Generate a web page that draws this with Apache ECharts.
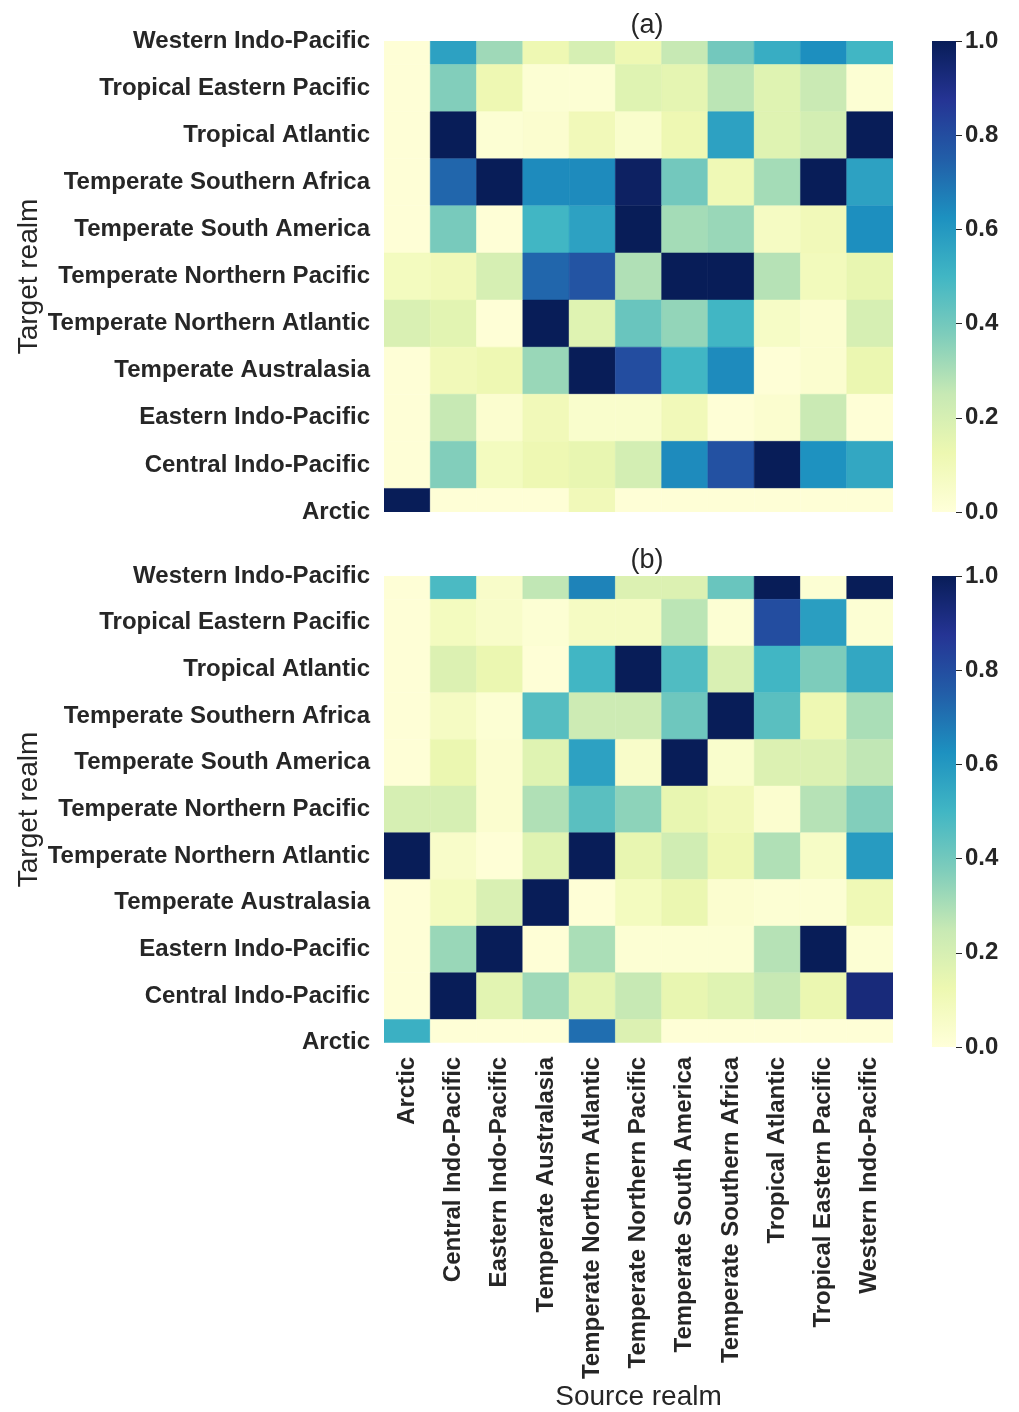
<!DOCTYPE html>
<html>
<head>
<meta charset="utf-8">
<script src="https://cdn.jsdelivr.net/npm/echarts@6/dist/echarts.min.js"></script>
<style>
  html, body { margin: 0; padding: 0; background: #ffffff; }
  #chart { width: 1019px; height: 1412px; }
</style>
</head>
<body>
<div id="chart"></div>
<script>
// Realms (source on x, target on y; y listed bottom -> top)
const realms = [
  'Arctic', 'Central Indo-Pacific', 'Eastern Indo-Pacific', 'Temperate Australasia',
  'Temperate Northern Atlantic', 'Temperate Northern Pacific', 'Temperate South America',
  'Temperate Southern Africa', 'Tropical Atlantic', 'Tropical Eastern Pacific', 'Western Indo-Pacific'
];

// Panel (a): rows are target realms from top (Western Indo-Pacific) to bottom (Arctic),
// columns are source realms in the order of `realms`.
const panelA = [
  [0.01, 0.57, 0.32, 0.12, 0.20, 0.12, 0.25, 0.40, 0.53, 0.63, 0.50], // Western Indo-Pacific
  [0.01, 0.37, 0.12, 0.02, 0.02, 0.17, 0.15, 0.27, 0.17, 0.24, 0.02], // Tropical Eastern Pacific
  [0.01, 1.00, 0.02, 0.03, 0.10, 0.04, 0.12, 0.57, 0.17, 0.21, 1.00], // Tropical Atlantic
  [0.01, 0.73, 1.00, 0.64, 0.64, 0.98, 0.40, 0.11, 0.31, 1.00, 0.57], // Temperate Southern Africa
  [0.01, 0.39, 0.01, 0.50, 0.57, 1.00, 0.31, 0.33, 0.07, 0.10, 0.63], // Temperate South America
  [0.08, 0.10, 0.20, 0.73, 0.78, 0.29, 1.00, 1.00, 0.28, 0.09, 0.14], // Temperate Northern Pacific
  [0.19, 0.16, 0.01, 1.00, 0.17, 0.42, 0.34, 0.50, 0.06, 0.03, 0.20], // Temperate Northern Atlantic
  [0.01, 0.10, 0.12, 0.33, 1.00, 0.80, 0.50, 0.64, 0.01, 0.03, 0.13], // Temperate Australasia
  [0.01, 0.25, 0.03, 0.10, 0.04, 0.04, 0.10, 0.01, 0.03, 0.24, 0.01], // Eastern Indo-Pacific
  [0.01, 0.37, 0.08, 0.12, 0.14, 0.21, 0.64, 0.79, 1.00, 0.62, 0.55], // Central Indo-Pacific
  [1.00, 0.01, 0.01, 0.01, 0.10, 0.01, 0.01, 0.01, 0.01, 0.01, 0.01]  // Arctic
];

// Panel (b)
const panelB = [
  [0.01, 0.48, 0.05, 0.26, 0.66, 0.18, 0.18, 0.42, 1.00, 0.02, 1.00], // Western Indo-Pacific
  [0.01, 0.08, 0.05, 0.02, 0.07, 0.07, 0.27, 0.02, 0.80, 0.58, 0.02], // Tropical Eastern Pacific
  [0.01, 0.18, 0.13, 0.01, 0.50, 1.00, 0.47, 0.19, 0.50, 0.38, 0.55], // Tropical Atlantic
  [0.01, 0.07, 0.02, 0.46, 0.23, 0.23, 0.41, 1.00, 0.45, 0.12, 0.30], // Temperate Southern Africa
  [0.01, 0.13, 0.03, 0.17, 0.57, 0.05, 1.00, 0.04, 0.18, 0.18, 0.26], // Temperate South America
  [0.20, 0.20, 0.03, 0.29, 0.45, 0.35, 0.14, 0.10, 0.03, 0.28, 0.37], // Temperate Northern Pacific
  [1.00, 0.05, 0.01, 0.17, 1.00, 0.14, 0.22, 0.12, 0.29, 0.06, 0.59], // Temperate Northern Atlantic
  [0.01, 0.08, 0.19, 1.00, 0.01, 0.08, 0.13, 0.03, 0.02, 0.02, 0.11], // Temperate Australasia
  [0.01, 0.33, 1.00, 0.01, 0.30, 0.02, 0.02, 0.02, 0.28, 1.00, 0.02], // Eastern Indo-Pacific
  [0.01, 1.00, 0.16, 0.32, 0.15, 0.25, 0.14, 0.17, 0.25, 0.13, 0.93], // Central Indo-Pacific
  [0.52, 0.01, 0.01, 0.01, 0.71, 0.18, 0.01, 0.01, 0.01, 0.01, 0.01]  // Arctic
];

const colorTicks = [0, 0.2, 0.4, 0.6, 0.8, 1.0];

// YlGnBu colormap
const ylgnbu = ['#ffffd9', '#edf8b1', '#c7e9b4', '#7fcdbb', '#41b6c4', '#1d91c0', '#225ea8', '#253494', '#081d58'];

function toTriples(matrix) {
  const out = [];
  const n = matrix.length;
  matrix.forEach(function (row, r) {
    row.forEach(function (v, c) {
      out.push([c, n - 1 - r, v]);
    });
  });
  return out;
}

const FONT = 'Liberation Sans, Arial, Helvetica, sans-serif';
const TXT = '#262626';

function renderCell(params, api) {
  const p = api.coord([api.value(0), api.value(1)]);
  const s = api.size([1, 1]);
  const col = api.visual('color');
  return {
    type: 'rect',
    shape: { x: p[0] - s[0] / 2, y: p[1] - s[1] / 2, width: s[0], height: s[1] },
    style: { fill: col, stroke: col, lineWidth: 0.5 }
  };
}

const grids = [
  { left: 384, top: 41, width: 509, height: 471 },
  { left: 384, top: 576, width: 509, height: 471 },
  { left: 932, top: 41, width: 24, height: 471 },
  { left: 932, top: 576, width: 24, height: 471 }
];

function heatX(gi, showLabels) {
  return {
    type: 'category', gridIndex: gi, data: realms, boundaryGap: true,
    axisLine: { show: false }, axisTick: { show: false }, splitLine: { show: false },
    axisLabel: {
      show: showLabels, rotate: 90, interval: 0, margin: 14,
      fontFamily: FONT, fontWeight: 'bold', fontSize: 24, color: TXT
    },
    name: showLabels ? 'Source realm' : '',
    nameLocation: 'middle', nameGap: 337,
    nameTextStyle: { fontFamily: FONT, fontSize: 28, color: TXT }
  };
}
function heatY(gi) {
  return {
    type: 'category', gridIndex: gi, data: realms, boundaryGap: false,
    axisLine: { show: false }, axisTick: { show: false }, splitLine: { show: false },
    axisLabel: { interval: 0, margin: 14, fontFamily: FONT, fontWeight: 'bold', fontSize: 24, color: TXT },
    name: 'Target realm', nameLocation: 'middle', nameRotate: 90, nameGap: 341,
    nameTextStyle: { fontFamily: FONT, fontSize: 28, color: TXT }
  };
}
function cbX(gi) {
  return { type: 'category', gridIndex: gi, data: ['c'], show: false };
}
function cbY(gi) {
  return {
    type: 'value', gridIndex: gi, position: 'right', min: 0, max: 1, interval: 0.2,
    axisLine: { show: false },
    axisTick: { show: true, length: 6, lineStyle: { color: TXT, width: 1 } },
    splitLine: { show: false },
    axisLabel: {
      margin: 9, fontFamily: FONT, fontWeight: 'bold', fontSize: 24, color: TXT,
      formatter: function (v) { return v.toFixed(1); }
    }
  };
}

const gradient = {
  type: 'linear', x: 0, y: 1, x2: 0, y2: 0,
  colorStops: ylgnbu.map(function (c, i) { return { offset: i / (ylgnbu.length - 1), color: c }; })
};

const option = {
  backgroundColor: '#ffffff',
  animation: false,
  textStyle: { fontFamily: FONT },
  title: [
    { text: '(a)', left: 642, top: 7, textAlign: 'center',
      textStyle: { fontFamily: FONT, fontWeight: 'normal', fontSize: 27, color: TXT } },
    { text: '(b)', left: 642, top: 542, textAlign: 'center',
      textStyle: { fontFamily: FONT, fontWeight: 'normal', fontSize: 27, color: TXT } }
  ],
  grid: grids,
  xAxis: [heatX(0, false), heatX(1, true), cbX(2), cbX(3)],
  yAxis: [heatY(0), heatY(1), cbY(2), cbY(3)],
  visualMap: {
    type: 'continuous', show: false, min: 0, max: 1, dimension: 2,
    seriesIndex: [0, 1], inRange: { color: ylgnbu }
  },
  series: [
    { type: 'custom', xAxisIndex: 0, yAxisIndex: 0, clip: true, data: toTriples(panelA),
      encode: { x: 0, y: 1 }, renderItem: renderCell },
    { type: 'custom', xAxisIndex: 1, yAxisIndex: 1, clip: true, data: toTriples(panelB),
      encode: { x: 0, y: 1 }, renderItem: renderCell },
    { type: 'bar', xAxisIndex: 2, yAxisIndex: 2, data: [colorTicks[colorTicks.length - 1]],
      barWidth: '100%', itemStyle: { color: gradient }, silent: true },
    { type: 'bar', xAxisIndex: 3, yAxisIndex: 3, data: [colorTicks[colorTicks.length - 1]],
      barWidth: '100%', itemStyle: { color: gradient }, silent: true }
  ]
};

const chart = echarts.init(document.getElementById('chart'), null, { renderer: 'canvas' });
chart.setOption(option);
</script>
</body>
</html>
